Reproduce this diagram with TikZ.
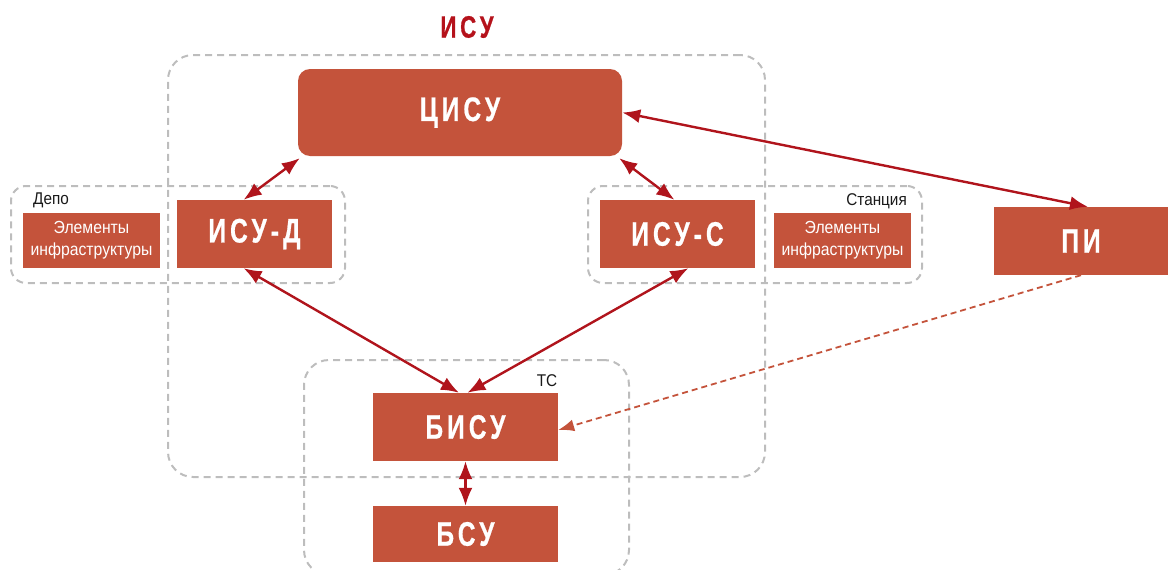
\documentclass[tikz,border=0pt]{standalone}
\usepackage{fontspec}
\setmainfont{Liberation Sans}
\newfontfamily\bigf[FakeStretch=0.72,LetterSpace=12,FakeBold=0.6]{Liberation Sans}
\newfontfamily\smallf[FakeStretch=0.9]{Liberation Sans}
\usetikzlibrary{arrows.meta,calc}
\definecolor{boxc}{HTML}{C4533B}
\definecolor{arrc}{HTML}{B0141C}
\definecolor{titc}{HTML}{B5121B}
\definecolor{framec}{HTML}{BDBDBD}
\tikzset{
  box/.style={fill=boxc, draw=none, inner sep=0pt, text=white, font=\bigf\bfseries\fontsize{34}{36}\selectfont},
  elembox/.style={fill=boxc, draw=none, inner sep=0pt, text=white, align=center, font=\smallf\fontsize{17.5}{22}\selectfont, minimum width=137pt, minimum height=55pt},
  frame/.style={draw=framec, line width=2pt, dash pattern=on 7pt off 5pt, inner sep=0pt},
  lbl/.style={inner sep=0pt, text=black!90, font=\smallf\fontsize{17}{19}\selectfont},
  link/.style={draw=arrc, line width=2.4pt, {Latex[length=18pt,width=14pt]}-{Latex[length=18pt,width=14pt]}},
  dlink/.style={draw=boxc, line width=1.8pt, dash pattern=on 6pt off 4pt, -{Latex[length=16pt,width=12pt]}}
}
\begin{document}
\begin{tikzpicture}[x=1pt,y=-1pt]
\useasboundingbox (0,0) rectangle (1168,570);
% frames
\node[frame, rounded corners=25pt, minimum width=597pt, minimum height=422pt] (isuframe) at (466.5,266) {};
\node[frame, rounded corners=15pt, minimum width=334pt, minimum height=97pt] (depoframe) at (178,234.5) {};
\node[frame, rounded corners=15pt, minimum width=334pt, minimum height=97pt] (stframe) at (755,234.5) {};
\node[frame, rounded corners=25pt, minimum width=325pt, minimum height=215pt] (tsframe) at (466.5,467.5) {};
% labels
\node[inner sep=0pt, text=titc, font=\bigf\bfseries\fontsize{31}{33}\selectfont] (title) at (467,27) {ИСУ};
\node[lbl, anchor=west] (depo) at (33,200) {Депо};
\node[lbl, anchor=east] (station) at (907,201) {Станция};
\node[lbl] (ts) at (547,381) {ТС};
% boxes
\node[box, rounded corners=12pt, minimum width=324pt, minimum height=87pt] (cisu) at (460,112.5) {ЦИСУ};
\node[box, minimum width=155pt, minimum height=68pt] (isud) at (254.5,234) {ИСУ-Д};
\node[box, minimum width=155pt, minimum height=68pt] (isus) at (677.5,234) {ИСУ-С};
\node[box, minimum width=174pt, minimum height=68pt] (pi) at (1081,241) {ПИ};
\node[box, minimum width=185pt, minimum height=68pt] (bisu) at (465.5,427) {БИСУ};
\node[box, minimum width=185pt, minimum height=56pt] (bsu) at (465.5,534) {БСУ};
\node[elembox] (elemd) at (91.5,240.5) {Элементы\\инфраструктуры};
\node[elembox] (elems) at (842.5,240.5) {Элементы\\инфраструктуры};
% connectors
\draw[link] ([shift={(2pt,-2pt)}]cisu.south west) -- ($(isud.north west)!0.43!(isud.north east)$);
\draw[link] ([shift={(-3pt,-2pt)}]cisu.south east) -- ($(isus.north west)!0.48!(isus.north east)$);
\draw[link] (cisu.east) -- ($(pi.north west)!0.54!(pi.north east)$);
\draw[link] ($(isud.south west)!0.43!(isud.south east)$) -- ($(bisu.north west)!0.465!(bisu.north east)$);
\draw[link] ($(isus.south west)!0.57!(isus.south east)$) -- ($(bisu.north west)!0.51!(bisu.north east)$);
\draw[link] (bisu.south) -- (bsu.north);
\draw[dlink] (pi.south) -- ([yshift=-3pt]bisu.east);
\end{tikzpicture}
\end{document}
